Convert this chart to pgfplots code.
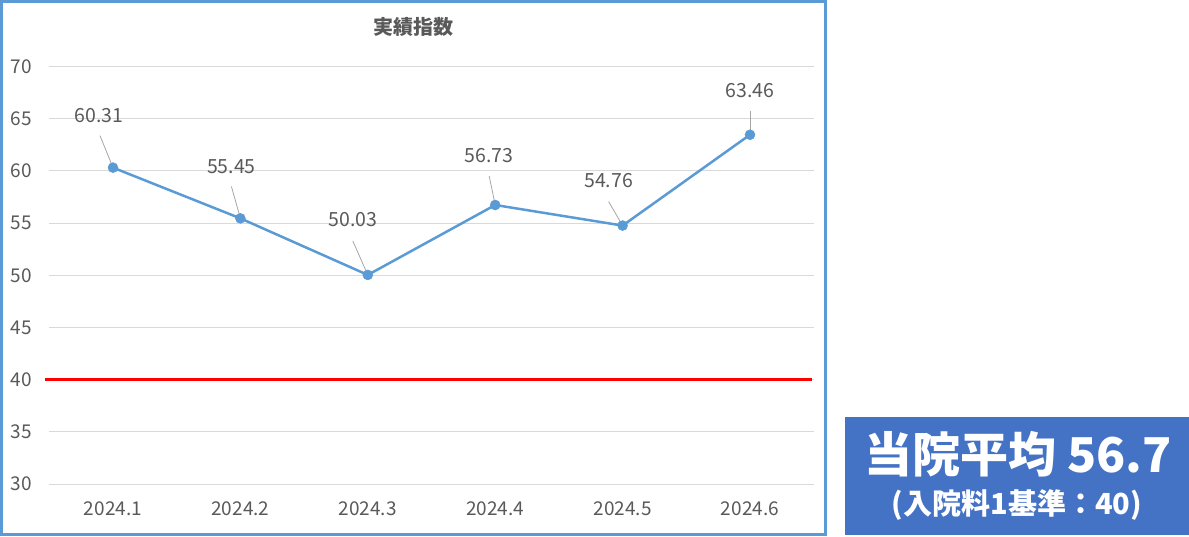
\documentclass[border=0pt]{standalone}
\usepackage{fontspec}
\setmainfont{Noto Sans CJK JP}
\usepackage{pgfplots}
\usepackage{pgfplotstable}
\pgfplotsset{compat=1.18}

\definecolor{txt}{HTML}{595959}
\definecolor{gridc}{HTML}{D9D9D9}
\definecolor{linec}{HTML}{5B9BD5}
\definecolor{framec}{HTML}{5B9BD5}
\definecolor{boxc}{HTML}{4472C4}
\definecolor{leaderc}{HTML}{A6A6A6}

% index per month, label offsets (pt) relative to the point
\pgfplotstableread{
x y dx dy
0 60.31 -14 52
1 55.45 -9 52
2 50.03 -15 55
3 56.73 -6 49
4 54.76 -14 45
5 63.46 0 44
}\datatable

\begin{document}
\begin{tikzpicture}[x=1pt,y=1pt]
\useasboundingbox (0,0) rectangle (1189,536);

\begin{axis}[
  at={(49.3pt,52pt)}, anchor=south west,
  scale only axis, width=764.4pt, height=417.5pt,
  xmin=-0.5, xmax=5.5, ymin=30, ymax=70,
  xtick={0,...,5},
  xticklabels={2024.1,2024.2,2024.3,2024.4,2024.5,2024.6},
  ytick={30,35,...,70},
  axis line style={draw=none},
  major tick length=0pt,
  ymajorgrids=true,
  grid style={draw=gridc, line width=1pt},
  /pgf/number format/assume math mode=true,
  ticklabel style={font=\fontsize{19}{19}\selectfont, text=txt},
  yticklabel style={xshift=-14pt},
  xticklabel style={yshift=-14pt},
  clip=false,
]

% benchmark line
\addplot[draw=red, line width=3pt] coordinates {(-0.53,40) (5.49,40)};

% leader lines of the data labels
\draw[leaderc, line width=0.8pt] (axis cs:0,60.31) ++(-13pt,32pt) -- (axis cs:0,60.31);
\draw[leaderc, line width=0.8pt] (axis cs:1,55.45) ++(-9pt,32pt) -- (axis cs:1,55.45);
\draw[leaderc, line width=0.8pt] (axis cs:2,50.03) ++(-15pt,34pt) -- (axis cs:2,50.03);
\draw[leaderc, line width=0.8pt] (axis cs:3,56.73) ++(-6pt,29pt) -- (axis cs:3,56.73);
\draw[leaderc, line width=0.8pt] (axis cs:4,54.76) ++(-14pt,24pt) -- (axis cs:4,54.76);
\draw[leaderc, line width=0.8pt] (axis cs:5,63.46) ++(0pt,24pt) -- (axis cs:5,63.46);

\addplot[
  draw=linec, line width=2.5pt,
  mark=*, mark size=5pt, mark options={fill=linec, draw=linec, line width=0.5pt},
  point meta=explicit symbolic,
  visualization depends on={\thisrow{dx}\as\dx},
  visualization depends on={\thisrow{dy}\as\dy},
  nodes near coords,
  nodes near coords style={font=\fontsize{19.5}{19.5}\selectfont, text=txt,
    anchor=center, xshift=\dx pt, yshift=\dy pt},
] table[x=x, y=y, meta=y] {\datatable};

\end{axis}

% title
\node[font=\bfseries\fontsize{20}{20}\selectfont, text=txt] at (413,509) {実績指数};

% chart frame
\draw[framec, line width=3pt] (1.5,1.5) rectangle (825,534.5);

% summary box
\fill[boxc] (845,1) rectangle (1189,119);
\node[font=\bfseries\fontsize{48}{48}\selectfont, text=white] at (1018,82) {当院平均 56.7};
\node[font=\bfseries\fontsize{29}{29}\selectfont, text=white] at (1017,31) {(入院料1基準：40)};
\end{tikzpicture}
\end{document}
